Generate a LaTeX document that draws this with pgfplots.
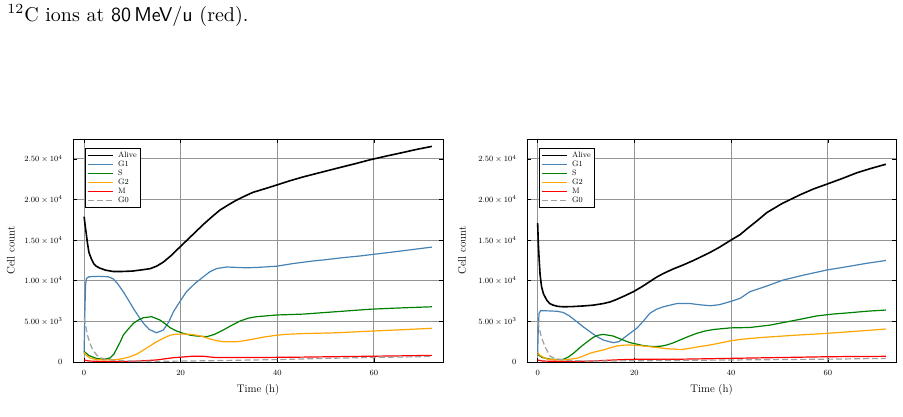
\documentclass[border=0pt]{standalone}
\usepackage{pgfplots}
\pgfplotsset{compat=1.18}

\definecolor{cG1}{HTML}{4682B4}
\definecolor{cS}{HTML}{008000}
\definecolor{cG2}{HTML}{FFA500}
\definecolor{cM}{HTML}{FF0000}
\definecolor{cG0}{HTML}{A0A0A0}

\pgfplotsset{
  cellplot/.style={
    scale only axis, height=223pt,
    ymin=0, ymax=27460,
    xtick={0,20,40,60},
    ytick={0,5000,10000,15000,20000,25000},
    yticklabels={$0$, $5.00\times10^{3}$, $1.00\times10^{4}$, $1.50\times10^{4}$, $2.00\times10^{4}$, $2.50\times10^{4}$},
    scaled y ticks=false,
    grid=major,
    major grid style={black!42, line width=1pt},
    tick style={black, line width=0.6pt},
    major tick length=4pt,
    axis line style={line width=0.9pt},
    tick label style={font=\fontsize{8}{9}\selectfont},
    xticklabel shift=5pt, yticklabel shift=7pt,
    label style={font=\fontsize{11}{13}\selectfont},
    xlabel={Time (h)}, ylabel={Cell count},
    xlabel style={at={(axis description cs:0.5,-0.1256)}, anchor=center},
    legend style={at={(axis description cs:0,1)}, anchor=north west,
      xshift=12pt, yshift=-9pt, draw=black, line width=0.9pt,
      font=\fontsize{7.8}{8}\selectfont, cells={anchor=west},
      inner sep=1.5pt, row sep=-2pt,
      /tikz/every odd column/.append style={column sep=2.5pt}},
    legend image code/.code={\draw[#1] (0pt,0pt) -- (25pt,0pt);},
    every axis plot/.append style={line width=1.2pt},
  },
  alive/.style={black, line width=1.6pt},
  g1/.style={cG1},
  sph/.style={cS},
  g2/.style={cG2},
  mph/.style={cM},
  g0/.style={cG0, dash pattern=on 6pt off 3pt},
}

\begin{document}
\begin{tikzpicture}
\path[use as bounding box] (0,0) rectangle (903pt,-416pt);

\node[anchor=base west, inner sep=0pt, scale=2] at (7pt,-21pt)
  {\textsuperscript{12}C ions at {\sffamily 80\,MeV/u} (red).};

% ---------------- left panel ----------------
\begin{axis}[cellplot, width=370pt, at={(73pt,-362pt)}, anchor=south west,
  xmin=-2.3, xmax=74.3,
  ylabel style={at={(axis description cs:-0.168,0.5)}, anchor=center}]
\addplot[alive] coordinates {
 (0,17900)(0.2,16900)(0.4,16000)(0.7,14600)(1.0,13500)(1.5,12700)(2,12100)
 (2.5,11800)(3.3,11550)(4.5,11300)(6,11150)(8,11150)(10,11200)(12,11350)
 (13.7,11500)(15,11800)(16.4,12300)(18,13100)(19.9,14200)(22,15400)
 (24.7,16950)(26.5,17900)(28.1,18700)(30,19400)(31.6,19950)(33.5,20500)
 (35,20900)(37.5,21350)(39.9,21800)(42.5,22300)(45.4,22800)(49,23350)
 (52.3,23850)(56,24400)(59.2,24900)(62.5,25350)(66,25800)(69,26200)(72,26550)};
\addlegendentry{Alive}
\addplot[g1] coordinates {
 (0,1000)(0.15,6000)(0.3,9500)(0.5,10300)(1,10500)(3,10550)(5,10500)
 (6,10250)(7,9600)(8.1,8660)(9.2,7600)(10.2,6600)(11.3,5600)(12.3,4760)
 (13.5,4000)(15,3600)(16.4,3940)(17.5,4900)(18.5,6200)(20,7600)(21.2,8660)
 (23,9700)(24.7,10500)(26,11100)(27.4,11500)(29.5,11700)(31.5,11650)
 (33.6,11600)(36,11650)(39.9,11800)(43,12100)(46.8,12400)(50,12600)
 (53.6,12850)(57,13050)(60.5,13300)(64,13550)(68,13850)(72,14150)};
\addlegendentry{G1}
\addplot[sph] coordinates {
 (0,1300)(1,800)(2.5,450)(4,330)(5.4,500)(6.2,1000)(6.8,1690)(7.5,2500)
 (8.1,3300)(9.2,4100)(10.2,4760)(11.3,5200)(12.3,5460)(14,5580)(15.7,5170)
 (16.8,4700)(17.8,4230)(19,3850)(20.5,3530)(22,3300)(23.3,3200)(25.4,3120)
 (27,3400)(28.8,3940)(30.5,4500)(32.3,5050)(34,5400)(35.7,5580)(39.9,5790)
 (45.4,5900)(52.3,6200)(59.2,6500)(65,6650)(72,6800)};
\addlegendentry{S}
\addplot[g2] coordinates {
 (0,1200)(0.5,800)(1.2,500)(2.5,300)(4,250)(6.8,300)(8,420)(9.5,650)
 (11,1000)(12.3,1480)(13.7,2000)(15,2500)(16.5,2950)(17.8,3300)(19,3420)
 (20.5,3450)(22,3400)(23.3,3300)(24.7,3100)(26.1,2830)(27.5,2620)(28.8,2500)
 (31.6,2500)(33.5,2650)(35.7,2900)(37.5,3100)(39.9,3300)(42,3420)(45.4,3500)
 (52.3,3600)(59.2,3800)(66,3980)(72,4150)};
\addlegendentry{G2}
\addplot[mph] coordinates {
 (0,250)(1,120)(3,80)(6,70)(9,80)(11,120)(13,180)(15,250)(16.8,400)
 (18.5,530)(20.5,620)(22.6,720)(24.5,720)(26,620)(27.4,550)(35,550)
 (45,600)(55,680)(65,750)(72,820)};
\addlegendentry{M}
\addplot[g0] coordinates {
 (0,5500)(0.3,4500)(0.7,3300)(1.2,2300)(1.8,1500)(2.6,860)(3.5,500)
 (4.6,330)(6,220)(8,150)(12,100)(18,100)(25,150)(32,220)(40,300)
 (48,420)(56,520)(64,600)(72,680)};
\addlegendentry{G0}
\end{axis}

% ---------------- right panel ----------------
\begin{axis}[cellplot, width=369pt, at={(527pt,-362pt)}, anchor=south west,
  xmin=-2.2, xmax=74.1,
  ylabel style={at={(axis description cs:-0.176,0.5)}, anchor=center}]
\addplot[alive] coordinates {
 (0,17100)(0.15,14500)(0.3,12800)(0.5,10800)(0.8,9300)(1.2,8400)(1.9,7600)
 (2.5,7200)(3.2,7000)(4.2,6850)(5.3,6800)(7,6820)(9.4,6900)(11.5,7000)
 (13.6,7200)(15,7400)(16.3,7700)(18,8150)(19.8,8660)(21.5,9250)(23.2,9900)
 (24.6,10450)(26,10900)(28,11450)(30.1,11950)(32.2,12500)(33.6,12900)
 (35.5,13450)(37.5,14100)(39.8,14950)(41.9,15700)(43.5,16500)(45.5,17450)
 (47.4,18400)(50.5,19500)(54.3,20600)(57,21300)(59.8,21900)
 (63,22600)(66,23300)(69,23850)(72,24350)};
\addlegendentry{Alive}
\addplot[g1] coordinates {
 (0,1000)(0.15,4500)(0.3,6000)(0.6,6300)(2,6300)(4,6250)(5.3,6100)(6.5,5700)
 (8.1,4970)(9.5,4300)(10.8,3740)(12.2,3150)(13.6,2700)(15.6,2380)(16.8,2500)
 (17.7,2900)(19,3500)(20.5,4150)(21.8,5000)(23.2,6000)(24.6,6500)(26,6800)
 (28.8,7200)(31.5,7200)(33.5,7050)(35.7,6930)(37.5,7050)(39.8,7430)
 (41.9,7850)(43.9,8660)(47.4,9360)(50.8,10100)(55,10700)(59.8,11330)
 (64.6,11800)(68,12150)(72,12500)};
\addlegendentry{G1}
\addplot[sph] coordinates {
 (0,900)(1,550)(2.5,350)(4,300)(5.3,330)(6.3,600)(7.4,1070)(8.4,1600)
 (9.4,2100)(10.5,2600)(11.5,3040)(12.5,3300)(13.6,3400)(15.6,3200)(17.7,2700)
 (19,2400)(20.5,2200)(22,2000)(23.9,1900)(25.5,1950)(26.7,2100)(28,2350)
 (29.4,2700)(31,3100)(32.9,3530)(34.5,3800)(36.3,4000)(39.8,4200)(43.9,4250)
 (48.1,4550)(52.9,5100)(57.7,5670)(61,5900)(64.6,6070)(68,6250)(72,6400)};
\addlegendentry{S}
\addplot[g2] coordinates {
 (0,1200)(0.5,800)(1.9,370)(3.5,270)(5.3,250)(8.1,450)(9.5,750)(10.8,1070)
 (12.2,1300)(13.6,1480)(15,1750)(16.3,1970)(17.7,2070)(19.1,2100)(20.5,2050)
 (21.9,1970)(24.5,1800)(26.5,1650)(28.8,1560)(30,1550)(31.5,1700)(33.5,1900)
 (35.7,2100)(37.8,2350)(39.8,2600)(41.9,2780)(43.9,2900)(47,3050)(50.8,3200)
 (54,3330)(57.7,3450)(61,3580)(64.6,3730)(68,3880)(72,4060)};
\addlegendentry{G2}
\addplot[mph] coordinates {
 (0,250)(1,120)(4,80)(8,80)(11,120)(14,200)(17,280)(20,330)(25,330)
 (30,350)(35,400)(40,450)(45,500)(50,550)(55,600)(60,650)(66,680)(72,700)};
\addlegendentry{M}
\addplot[g0] coordinates {
 (0,5000)(0.3,4350)(0.7,3200)(1.5,1900)(2.6,700)(3.5,450)(4.7,300)(6,220)
 (8,150)(12,120)(20,150)(30,200)(40,250)(50,300)(60,350)(66,400)(72,450)};
\addlegendentry{G0}
\end{axis}
\end{tikzpicture}
\end{document}
